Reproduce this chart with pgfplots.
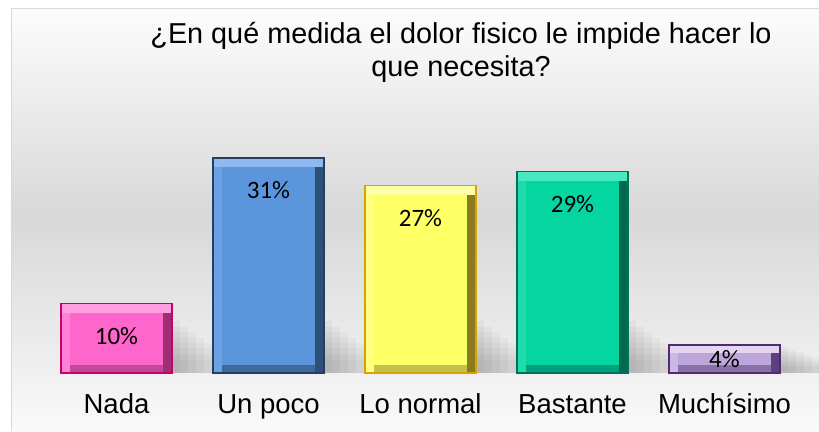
\documentclass[border=0pt]{standalone}
\usepackage{fontspec}
\setmainfont{Liberation Sans}
\newfontfamily\calibri{Carlito}
\usepackage{pgfplots}
\pgfplotsset{compat=1.18}
\definecolor{bgmid}{HTML}{D8D8D8}
\definecolor{bglow}{HTML}{F0F0F0}
\definecolor{bordercol}{HTML}{D9D9D9}
\definecolor{pinkf}{HTML}{FF66CC}
\definecolor{pinkd}{HTML}{C8006A}
\definecolor{pinkt}{HTML}{FF9FE2}
\definecolor{pinkl}{HTML}{FF80D6}
\definecolor{pinkr}{HTML}{A02E74}
\definecolor{pinkb}{HTML}{C04A98}
\definecolor{bluef}{HTML}{5B96DD}
\definecolor{blued}{HTML}{24405F}
\definecolor{bluet}{HTML}{8DB9EF}
\definecolor{bluel}{HTML}{6AA2E4}
\definecolor{bluer}{HTML}{2D4F78}
\definecolor{blueb}{HTML}{3F6AA0}
\definecolor{yelf}{HTML}{FFFF66}
\definecolor{yeld}{HTML}{D9A200}
\definecolor{yelt}{HTML}{FFFFA6}
\definecolor{yell}{HTML}{FFFF80}
\definecolor{yelr}{HTML}{8A7A20}
\definecolor{yelb}{HTML}{C6BE4E}
\definecolor{grnf}{HTML}{05D5A0}
\definecolor{grnd}{HTML}{00705A}
\definecolor{grnt}{HTML}{48E9C0}
\definecolor{grnl}{HTML}{20DCAC}
\definecolor{grnr}{HTML}{00694F}
\definecolor{grnb}{HTML}{00A07A}
\definecolor{purf}{HTML}{BCA6DA}
\definecolor{purd}{HTML}{4E2C6E}
\definecolor{purt}{HTML}{E4D6F3}
\definecolor{purl}{HTML}{CCB8E4}
\definecolor{purr}{HTML}{5E3F80}
\definecolor{purb}{HTML}{8A70A8}
% #1 x, #2 value, #3 value minus bevel, #4 main, #5 top, #6 left, #7 right, #8 bottom, #9 border
\newcommand\bevbar[9]{%
 \addplot[fill=#5, draw=none] coordinates {(#1,#2)};
 \addplot[fill=#6, draw=none, bar width=9pt, bar shift=-51pt] coordinates {(#1,#3)};
 \addplot[fill=#7, draw=none, bar width=9pt, bar shift=51pt] coordinates {(#1,#3)};
 \addplot[fill=#4, draw=none, bar width=93pt] coordinates {(#1,#3)};
 \addplot[fill=#8, draw=none, bar width=93pt] coordinates {(#1,1.2)};
 \addplot[fill=none, draw=#9, line width=1.5pt] coordinates {(#1,#2)};
}
% shadow layer: #1 width, #2 shift, #3 height, #4 height for last bar
\newcommand\shadowlayer[4]{%
 \addplot[fill=black, fill opacity=0.03, draw=none, bar width=#1, bar shift=#2]
   coordinates {(0,#3) (1,#3) (2,#3) (3,#3) (4,#4)};
}
\begin{document}
\begin{tikzpicture}
\path[use as bounding box] (0pt,0pt) rectangle (819pt,431pt);
\fill[white] (0pt,0pt) rectangle (819pt,431pt);
\shade[top color=white!99!black, bottom color=bgmid] (11pt,216pt) rectangle (819pt,422pt);
\shade[top color=bgmid, bottom color=bglow] (11pt,58pt) rectangle (819pt,216.5pt);
\shade[top color=bglow, bottom color=white!98!black] (11pt,0pt) rectangle (819pt,58.5pt);
\draw[bordercol, line width=1pt] (11pt,0pt) -- (11pt,422pt) -- (819pt,422pt);
\node[anchor=base, font=\fontsize{28.8}{34}\selectfont] at (461pt,387pt) {¿En qué medida el dolor fisico le impide hacer lo};
\node[anchor=base, font=\fontsize{28.8}{34}\selectfont] at (461pt,354pt) {que necesita?};
\begin{axis}[
  scale only axis, width=760pt, height=242.9pt,
  anchor=south west, at={(40.5pt,58pt)},
  xmin=-0.5, xmax=4.5, ymin=0, ymax=35,
  axis line style={draw=none}, major tick length=0pt,
  ytick=\empty, xtick={0,1,2,3,4},
  xticklabels={Nada, Un poco, Lo normal, Bastante, Muchísimo},
  xticklabel style={font=\fontsize{27.5}{30}\selectfont, anchor=base, yshift=-40pt},
  ybar, bar width=111pt, bar shift=0pt,
  clip=false,
  every node near coord/.style={anchor=center, yshift=-32pt, font=\calibri\fontsize{25}{28}\selectfont, text=black},
]
% soft shadows to the right of each bar
\shadowlayer{119.5pt}{59.75pt}{1.9}{1.0}
\shadowlayer{111.5pt}{55.75pt}{2.7}{1.4}
\shadowlayer{103.5pt}{51.75pt}{3.5}{1.8}
\shadowlayer{95.5pt}{47.75pt}{4.3}{2.2}
\shadowlayer{87.5pt}{43.75pt}{5.1}{2.6}
\shadowlayer{79.5pt}{39.75pt}{5.9}{3.0}
\shadowlayer{71.5pt}{35.75pt}{6.7}{3.4}
\shadowlayer{63.5pt}{31.75pt}{7.5}{3.8}
% bevelled bars
\bevbar{0}{10}{8.7}{pinkf}{pinkt}{pinkl}{pinkr}{pinkb}{pinkd}
\bevbar{1}{31}{29.7}{bluef}{bluet}{bluel}{bluer}{blueb}{blued}
\bevbar{2}{27}{25.7}{yelf}{yelt}{yell}{yelr}{yelb}{yeld}
\bevbar{3}{29}{27.7}{grnf}{grnt}{grnl}{grnr}{grnb}{grnd}
\bevbar{4}{4}{2.9}{purf}{purt}{purl}{purr}{purb}{purd}
% data labels
\addplot[fill=none, draw=none,
  nodes near coords={\pgfmathprintnumber[assume math mode=true]{\pgfplotspointmeta}\%}]
  coordinates {(0,10) (1,31) (2,27) (3,29)};
\addplot[fill=none, draw=none,
  nodes near coords={\pgfmathprintnumber[assume math mode=true]{\pgfplotspointmeta}\%},
  every node near coord/.append style={yshift=18pt}] coordinates {(4,4)};
\end{axis}
\end{tikzpicture}
\end{document}
